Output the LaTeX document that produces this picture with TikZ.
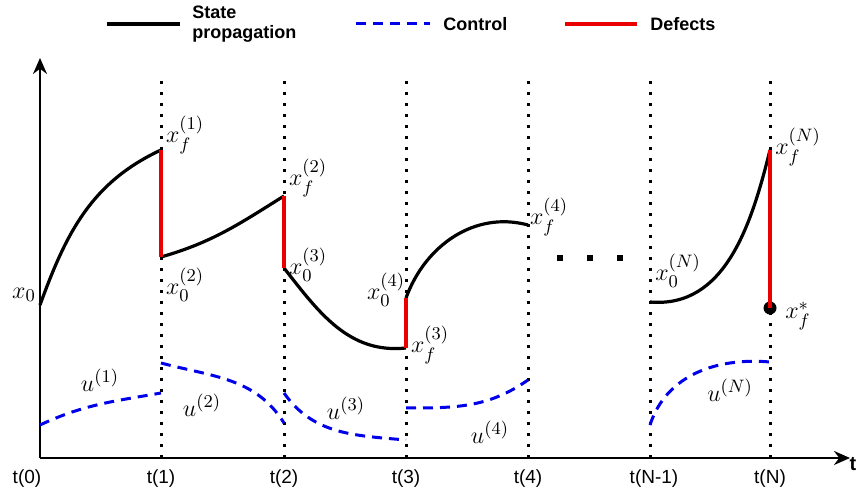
\documentclass[tikz,border=0pt]{standalone}
\usepackage{fontspec}
\setsansfont{Liberation Sans}
\usepackage{amsmath}
\usetikzlibrary{arrows.meta}
\definecolor{ctrlblue}{RGB}{0, 0, 235}
\definecolor{defectred}{RGB}{235, 0, 0}

\begin{document}
\begin{tikzpicture}[x=0.5pt, y=0.5pt,
  state/.style={line width=1.6pt, black},
  ctrl/.style={line width=1.5pt, ctrlblue, dash pattern=on 5pt off 3.5pt},
  defect/.style={line width=1.6pt, defectred},
  tline/.style={line width=1.5pt, dash pattern=on 1.5pt off 4pt},
  axis/.style={line width=1.1pt, -{Stealth[length=8pt, width=7pt]}},
  lbl/.style={font=\fontsize{12.5}{14}\selectfont, inner sep=0pt},
  tick/.style={font=\sffamily\fontsize{9.5}{11}\selectfont},
  leg/.style={font=\sffamily\bfseries\fontsize{9}{10}\selectfont, anchor=west, align=left, inner sep=0pt},
  sq/.style={fill, minimum size=3pt, inner sep=0pt},
]
\useasboundingbox (0,0) rectangle (858,496);

% Legend
\coordinate (la) at (107,472); \coordinate (lb) at (180,472);
\coordinate (lc) at (356,472); \coordinate (ld) at (430,472);
\coordinate (le) at (565,472); \coordinate (lf) at (637,472);
\draw[state] (la) -- (lb);
\node[leg] (lstate) at (192,472) {State\\propagation};
\draw[ctrl] (lc) -- (ld);
\node[leg] (lctrl) at (443,472) {Control};
\draw[defect] (le) -- (lf);
\node[leg] (ldef) at (650,472) {Defects};

% Axes
\coordinate (o) at (40,38);
\coordinate (ytop) at (40,438);
\coordinate (xend) at (850,38);
\draw[axis] (o) -- (ytop);
\draw[axis] (o) -- (xend);
\node[font=\sffamily\bfseries\fontsize{10}{12}\selectfont] (tlbl) at (853,32) {t};

% Time grid
\foreach \n/\x in {1/161, 2/284, 3/406, 4/528, m/650, N/770} {
  \coordinate (b\n) at (\x,38);
  \coordinate (u\n) at (\x,421);
  \draw[tline] (b\n) -- (u\n);
}
\foreach \n/\x/\t in {0/27/t(0), 1/161/t(1), 2/284/t(2), 3/406/t(3), 4/528/t(4), m/654/t(N-1), N/770/t(N)}
  \node[tick] (tk\n) at (\x,17) {\t};

% State propagation
\coordinate (s1) at (40,191);  \coordinate (e1) at (161,346);
\coordinate (s2) at (161,239); \coordinate (e2) at (284,300);
\coordinate (s3) at (284,228); \coordinate (e3) at (406,148);
\coordinate (s4) at (406,198); \coordinate (e4) at (528,271);
\coordinate (sN) at (650,194); \coordinate (eN) at (770,346);
\draw[state] (s1) to[out=70, in=205] (e1);
\draw[state] (s2) to[out=16, in=212] (e2);
\draw[state] (s3) to[out=-52, in=186] (e3);
\draw[state] (s4) to[out=70, in=165] (e4);
\draw[state] (sN) to[out=-5, in=256] (eN);

% Defects
\node[circle, fill, minimum size=6.5pt, inner sep=0pt] (xstar) at (770,188) {};
\draw[defect] (e1) -- (s2);
\draw[defect] (e2) -- (s3);
\draw[defect] (e3) -- (s4);
\draw[defect] (eN) -- (xstar.center);

% State labels
\node[lbl] (x0) at (24,201) {$x_0$};
\node[lbl] (xf1) at (185,361) {$x_f^{(1)}$};
\node[lbl] (x02) at (185,211) {$x_0^{(2)}$};
\node[lbl] (xf2) at (308,318) {$x_f^{(2)}$};
\node[lbl] (x03) at (308,231) {$x_0^{(3)}$};
\node[lbl] (x04) at (386,206) {$x_0^{(4)}$};
\node[lbl] (xf3) at (430,151) {$x_f^{(3)}$};
\node[lbl] (xf4) at (549,279) {$x_f^{(4)}$};
\node[lbl] (x0N) at (678,225) {$x_0^{(N)}$};
\node[lbl] (xfN) at (798,349) {$x_f^{(N)}$};
\node[lbl] (xfs) at (798,180) {$x_f^{*}$};

% Gap
\node[sq] (d1) at (560,238) {};
\node[sq] (d2) at (590,238) {};
\node[sq] (d3) at (620,238) {};

% Control
\coordinate (c1) at (40,71);   \coordinate (f1) at (161,103);
\coordinate (c2) at (161,133); \coordinate (f2) at (284,73);
\coordinate (c3) at (284,103); \coordinate (f3) at (406,56);
\coordinate (c4) at (406,88);  \coordinate (f4) at (528,116);
\coordinate (cN) at (650,71);  \coordinate (fN) at (770,134);
\draw[ctrl] (c1) to[out=25, in=190] (f1);
\draw[ctrl] (c2) to[out=-15, in=122] (f2);
\draw[ctrl] (c3) to[out=-55, in=175] (f3);
\draw[ctrl] (c4) to[out=0, in=215] (f4);
\draw[ctrl] (cN) to[out=72, in=175] (fN);

% Control labels
\node[lbl] (u1) at (100,116) {$u^{(1)}$};
\node[lbl] (u2) at (202,91) {$u^{(2)}$};
\node[lbl] (u3) at (346,88) {$u^{(3)}$};
\node[lbl] (u4) at (490,64) {$u^{(4)}$};
\node[lbl] (uN) at (730,106) {$u^{(N)}$};
\end{tikzpicture}
\end{document}
